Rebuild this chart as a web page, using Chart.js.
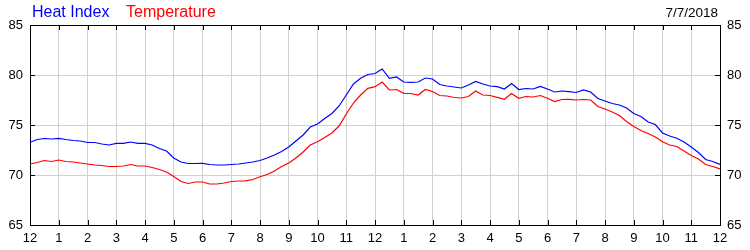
<!DOCTYPE html>
<html>
<head>
<meta charset="utf-8">
<script src="https://cdn.jsdelivr.net/npm/chart.js@4/dist/chart.umd.min.js"></script>
<style>
  html, body { margin: 0; padding: 0; background: #fff; }
  #wrap { position: relative; width: 750px; height: 250px; }
  canvas { position: absolute; left: 0; top: 0; }
  .hdr { position: absolute; font-family: "Liberation Sans", Arial, sans-serif; white-space: nowrap; line-height: 1; }
</style>
</head>
<body>
<div id="wrap">
  <canvas id="c" width="750" height="250"></canvas>
  <span class="hdr" id="hi" style="left:32px; top:4px; font-size:16px; color:#0000ff;">Heat Index</span>
  <span class="hdr" id="tp" style="left:126px; top:4px; font-size:16px; color:#ff0000;">Temperature</span>
  <span class="hdr" id="dt" style="right:32px; top:6px; font-size:13.5px; color:#000;">7/7/2018</span>
</div>
<script>
// Tick labels for the hour axis (midnight to midnight)
const hourLabels = ["12","1","2","3","4","5","6","7","8","9","10","11","12","1","2","3","4","5","6","7","8","9","10","11","12"];
const yTicks = [65, 70, 75, 80, 85];

// Readings every 15 minutes, 00:00 .. 24:00
const heatIndex = [
  73.27, 73.55, 73.65, 73.6, 73.67, 73.55, 73.45, 73.4, 73.25, 73.25,
  73.1, 73.0, 73.17, 73.17, 73.3, 73.17, 73.17, 73.0, 72.65, 72.4,
  71.7, 71.3, 71.15, 71.15, 71.17, 71.05, 71.0, 71.0, 71.05, 71.1,
  71.2, 71.3, 71.45, 71.7, 72.0, 72.35, 72.8, 73.4, 74.0, 74.8,
  75.1, 75.65, 76.15, 76.9, 78.0, 79.1, 79.67, 80.05, 80.15, 80.6,
  79.67, 79.8, 79.3, 79.27, 79.3, 79.7, 79.6, 79.05, 78.9, 78.8,
  78.7, 79.0, 79.35, 79.1, 78.9, 78.83, 78.6, 79.15, 78.55, 78.65,
  78.6, 78.85, 78.6, 78.3, 78.4, 78.33, 78.25, 78.5, 78.3, 77.65,
  77.4, 77.15, 77.0, 76.7, 76.15, 75.85, 75.3, 75.05, 74.2, 73.9,
  73.67, 73.3, 72.8, 72.25, 71.55, 71.35, 71.05
];
const temperature = [
  71.1, 71.25, 71.45, 71.35, 71.5, 71.35, 71.3, 71.2, 71.1, 71.0,
  70.95, 70.85, 70.85, 70.9, 71.05, 70.9, 70.9, 70.75, 70.55, 70.3,
  69.85, 69.35, 69.15, 69.3, 69.3, 69.1, 69.1, 69.2, 69.35, 69.4,
  69.42, 69.55, 69.83, 70.05, 70.4, 70.85, 71.2, 71.7, 72.3, 73.0,
  73.33, 73.75, 74.2, 74.9, 76.1, 77.2, 78.0, 78.67, 78.83, 79.3,
  78.5, 78.55, 78.17, 78.15, 78.0, 78.55, 78.35, 77.95, 77.9, 77.75,
  77.7, 77.85, 78.4, 78.0, 77.95, 77.77, 77.57, 78.15, 77.67, 77.85,
  77.8, 77.95, 77.67, 77.35, 77.55, 77.57, 77.5, 77.55, 77.5, 76.85,
  76.6, 76.3, 75.95, 75.35, 74.85, 74.45, 74.15, 73.8, 73.33, 73.0,
  72.85, 72.4, 71.95, 71.6, 71.05, 70.85, 70.6
];
// hour of day for each reading (15-minute sampling)
const hours = temperature.map((_, i) => i / 4);

const toPts = arr => arr.map((v, i) => ({ x: hours[i], y: v }));

const frameTicks = {
  id: 'frameTicks',
  beforeDatasetsDraw(chart) {
    const { ctx, chartArea: a } = chart;
    const xs = chart.scales.x, ys = chart.scales.y;
    ctx.save();
    ctx.strokeStyle = '#000';
    ctx.lineWidth = 1;
    ctx.beginPath();
    xs.ticks.forEach(t => {
      const px = Math.round(xs.getPixelForValue(t.value)) + 0.5;
      ctx.moveTo(px, a.bottom); ctx.lineTo(px, a.bottom - 5);
      ctx.moveTo(px, a.top); ctx.lineTo(px, a.top + 5);
    });
    ys.ticks.forEach(t => {
      const py = Math.round(ys.getPixelForValue(t.value)) + 0.5;
      ctx.moveTo(a.left, py); ctx.lineTo(a.left + 5, py);
      ctx.moveTo(a.right, py); ctx.lineTo(a.right - 5, py);
    });
    ctx.stroke();
    ctx.strokeRect(Math.round(a.left) + 0.5, Math.round(a.top) + 0.5,
                   Math.round(a.right - a.left), Math.round(a.bottom - a.top));
    ctx.restore();
  }
};

const tickFont = { family: '"Liberation Sans", Arial, sans-serif', size: 13 };

new Chart(document.getElementById('c'), {
  type: 'line',
  data: {
    datasets: [
      { label: 'Heat Index', data: toPts(heatIndex), borderColor: '#0000ff', borderWidth: 1.2, pointRadius: 0, fill: false, tension: 0 },
      { label: 'Temperature', data: toPts(temperature), borderColor: '#ff0000', borderWidth: 1.2, pointRadius: 0, fill: false, tension: 0 }
    ]
  },
  options: {
    responsive: false,
    animation: false,
    devicePixelRatio: 1,
    layout: { padding: { top: 25, left: 0, right: 0, bottom: 0 } },
    plugins: { legend: { display: false }, tooltip: { enabled: false }, title: { display: false } },
    scales: {
      x: {
        type: 'linear', min: 0, max: 24,
        afterFit: s => { s.height = 25; },
        afterBuildTicks: s => { s.ticks = hourLabels.map((_, i) => ({ value: i })); },
        ticks: { autoSkip: false, maxRotation: 0, padding: 6, color: '#000', font: tickFont,
                 callback: v => hourLabels[Math.round(v)] },
        grid: { color: '#d0d0d0', drawTicks: false },
        border: { display: false }
      },
      y: {
        position: 'left', min: 65, max: 85,
        afterFit: s => { s.width = 30; },
        afterBuildTicks: s => { s.ticks = yTicks.map(v => ({ value: v })); },
        ticks: { padding: 7, color: '#000', font: tickFont, callback: v => String(v) },
        grid: { color: '#d0d0d0', drawTicks: false },
        border: { display: false }
      },
      y2: {
        position: 'right', min: 65, max: 85,
        afterFit: s => { s.width = 30; },
        afterBuildTicks: s => { s.ticks = yTicks.map(v => ({ value: v })); },
        ticks: { padding: 7, color: '#000', font: tickFont, callback: v => String(v) },
        grid: { display: false, drawTicks: false },
        border: { display: false }
      }
    }
  },
  plugins: [frameTicks]
});
</script>
</body>
</html>
